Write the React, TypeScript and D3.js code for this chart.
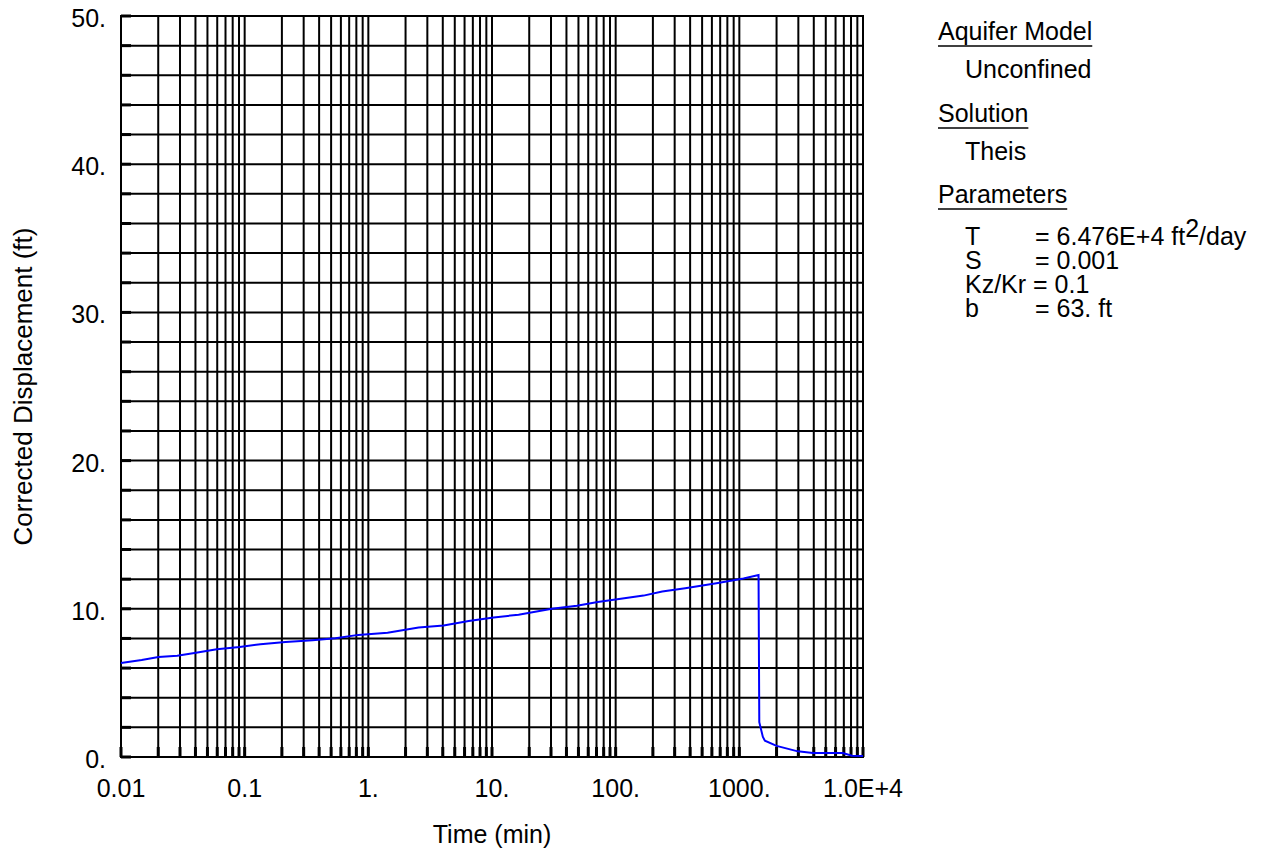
import React, { useEffect, useRef } from "react";
import * as d3 from "d3";

const timeMin = [
  0.01, 0.0147, 0.0201, 0.0285, 0.0404, 0.0595, 0.0911, 0.134, 0.214, 0.354,
  0.542, 0.83, 1.43, 2.55, 4.06, 6.48, 10.3, 16.4, 30.5, 48.6, 71.6, 110, 168,
  238, 365, 653, 1081, 1430, 1450, 1550, 1610, 2000, 2970, 3930, 6870, 8130,
  10000,
];
const displacementFt = [
  6.35, 6.54, 6.75, 6.84, 7.04, 7.27, 7.43, 7.61, 7.76, 7.88, 8.01, 8.24, 8.38,
  8.74, 8.87, 9.17, 9.42, 9.6, 10.0, 10.21, 10.46, 10.68, 10.89, 11.16, 11.38,
  11.72, 12.05, 12.28, 2.35, 1.35, 1.1, 0.75, 0.38, 0.27, 0.27, 0.08, 0.07,
];

const xTickValues = [0.01, 0.1, 1, 10, 100, 1000, 10000];
const xTickLabels = ["0.01", "0.1", "1.", "10.", "100.", "1000.", "1.0E+4"];
const yTickValues = [0, 10, 20, 30, 40, 50];
const yTickLabels = ["0.", "10.", "20.", "30.", "40.", "50."];

const paramNames = ["T", "S", "Kz/Kr", "b"];
const paramValues = ["= 6.476E+4 ft", "= 0.001", "= 0.1", "= 63. ft"];

const W = 1269;
const H = 855;
const FONT = "'Liberation Sans', Arial, sans-serif";

const App = () => {
  const ref = useRef(null);

  useEffect(() => {
    const svg = d3.select(ref.current);
    svg.selectAll("*").remove();

    const left = 121,
      right = 863,
      top = 16,
      bottom = 757;

    const x = d3.scaleLog().domain([0.01, 10000]).range([left, right]);
    const y = d3.scaleLinear().domain([0, 50]).range([bottom, top]);

    const g = svg.append("g");

    // vertical grid: 1..9 in every decade
    const minor = [];
    for (let e = -2; e < 4; e++) {
      for (let m = 1; m < 10; m++) minor.push(m * Math.pow(10, e));
    }
    minor.push(10000);
    g.selectAll("line.vg")
      .data(minor)
      .enter()
      .append("line")
      .attr("class", "vg")
      .attr("x1", d => x(d))
      .attr("x2", d => x(d))
      .attr("y1", top)
      .attr("y2", bottom)
      .attr("stroke", "#000")
      .attr("stroke-width", 2);

    const hLines = d3.range(0, 51, 2);
    g.selectAll("line.hg")
      .data(hLines)
      .enter()
      .append("line")
      .attr("class", "hg")
      .attr("x1", left)
      .attr("x2", right)
      .attr("y1", d => y(d))
      .attr("y2", d => y(d))
      .attr("stroke", "#000")
      .attr("stroke-width", 2);

    // small inward ticks
    g.selectAll("line.yt")
      .data(hLines)
      .enter()
      .append("line")
      .attr("x1", left)
      .attr("x2", left + 10)
      .attr("y1", d => y(d))
      .attr("y2", d => y(d))
      .attr("stroke", "#000")
      .attr("stroke-width", 3);
    g.selectAll("line.xt")
      .data(minor)
      .enter()
      .append("line")
      .attr("x1", d => x(d))
      .attr("x2", d => x(d))
      .attr("y1", bottom)
      .attr("y2", bottom - 10)
      .attr("stroke", "#000")
      .attr("stroke-width", 3);

    g.append("rect")
      .attr("x", left)
      .attr("y", top)
      .attr("width", right - left)
      .attr("height", bottom - top)
      .attr("fill", "none")
      .attr("stroke", "#000")
      .attr("stroke-width", 2);

    // tick labels
    g.selectAll("text.xl")
      .data(xTickValues)
      .enter()
      .append("text")
      .attr("x", d => x(d))
      .attr("y", 797)
      .attr("text-anchor", "middle")
      .text((d, i) => xTickLabels[i]);

    g.selectAll("text.yl")
      .data(yTickValues)
      .enter()
      .append("text")
      .attr("x", 106)
      .attr("y", d => y(d) + 11)
      .attr("text-anchor", "end")
      .text((d, i) => yTickLabels[i]);

    g.append("text")
      .attr("x", (left + right) / 2)
      .attr("y", 843)
      .attr("text-anchor", "middle")
      .text("Time (min)");

    g.append("text")
      .attr("transform", `translate(32 ${(top + bottom) / 2}) rotate(-90)`)
      .attr("text-anchor", "middle")
      .attr("font-size", 26)
      .text("Corrected Displacement (ft)");

    // curve
    const pts = timeMin.map((t, i) => [t, displacementFt[i]]);
    const line = d3
      .line()
      .x(d => x(d[0]))
      .y(d => y(d[1]));
    g.append("path")
      .datum(pts)
      .attr("d", line)
      .attr("fill", "none")
      .attr("stroke", "#0000ff")
      .attr("stroke-width", 2);

    // info panel
    const heading = (txt, yy) => {
      const t = g.append("text").attr("x", 938).attr("y", yy).text(txt);
      const w = t.node().getComputedTextLength();
      g.append("line")
        .attr("x1", 938)
        .attr("x2", 938 + w)
        .attr("y1", yy + 6)
        .attr("y2", yy + 6)
        .attr("stroke", "#000")
        .attr("stroke-width", 1.5);
    };
    heading("Aquifer Model", 40);
    g.append("text").attr("x", 965).attr("y", 78).text("Unconfined");
    heading("Solution", 122);
    g.append("text").attr("x", 965).attr("y", 160).text("Theis");
    heading("Parameters", 203);

    paramNames.forEach((n, i) => {
      const yy = 245 + i * 24;
      if (n === "Kz/Kr") {
        g.append("text").attr("x", 965).attr("y", yy).text(n + " " + paramValues[i]);
        return;
      }
      g.append("text").attr("x", 965).attr("y", yy).text(n);
      const t = g.append("text").attr("x", 1035).attr("y", yy).text(paramValues[i]);
      if (n === "T") {
        t.append("tspan").attr("dy", -8).text("2");
        t.append("tspan").attr("dy", 8).text("/day");
      }
    });
  }, []);

  return (
    <svg
      ref={ref}
      width={W}
      height={H}
      style={{ position: "absolute", left: 0, top: 0, background: "#fff" }}
      fontFamily={FONT}
      fontSize={25}
      fill="#000"
    />
  );
};

export default App;
